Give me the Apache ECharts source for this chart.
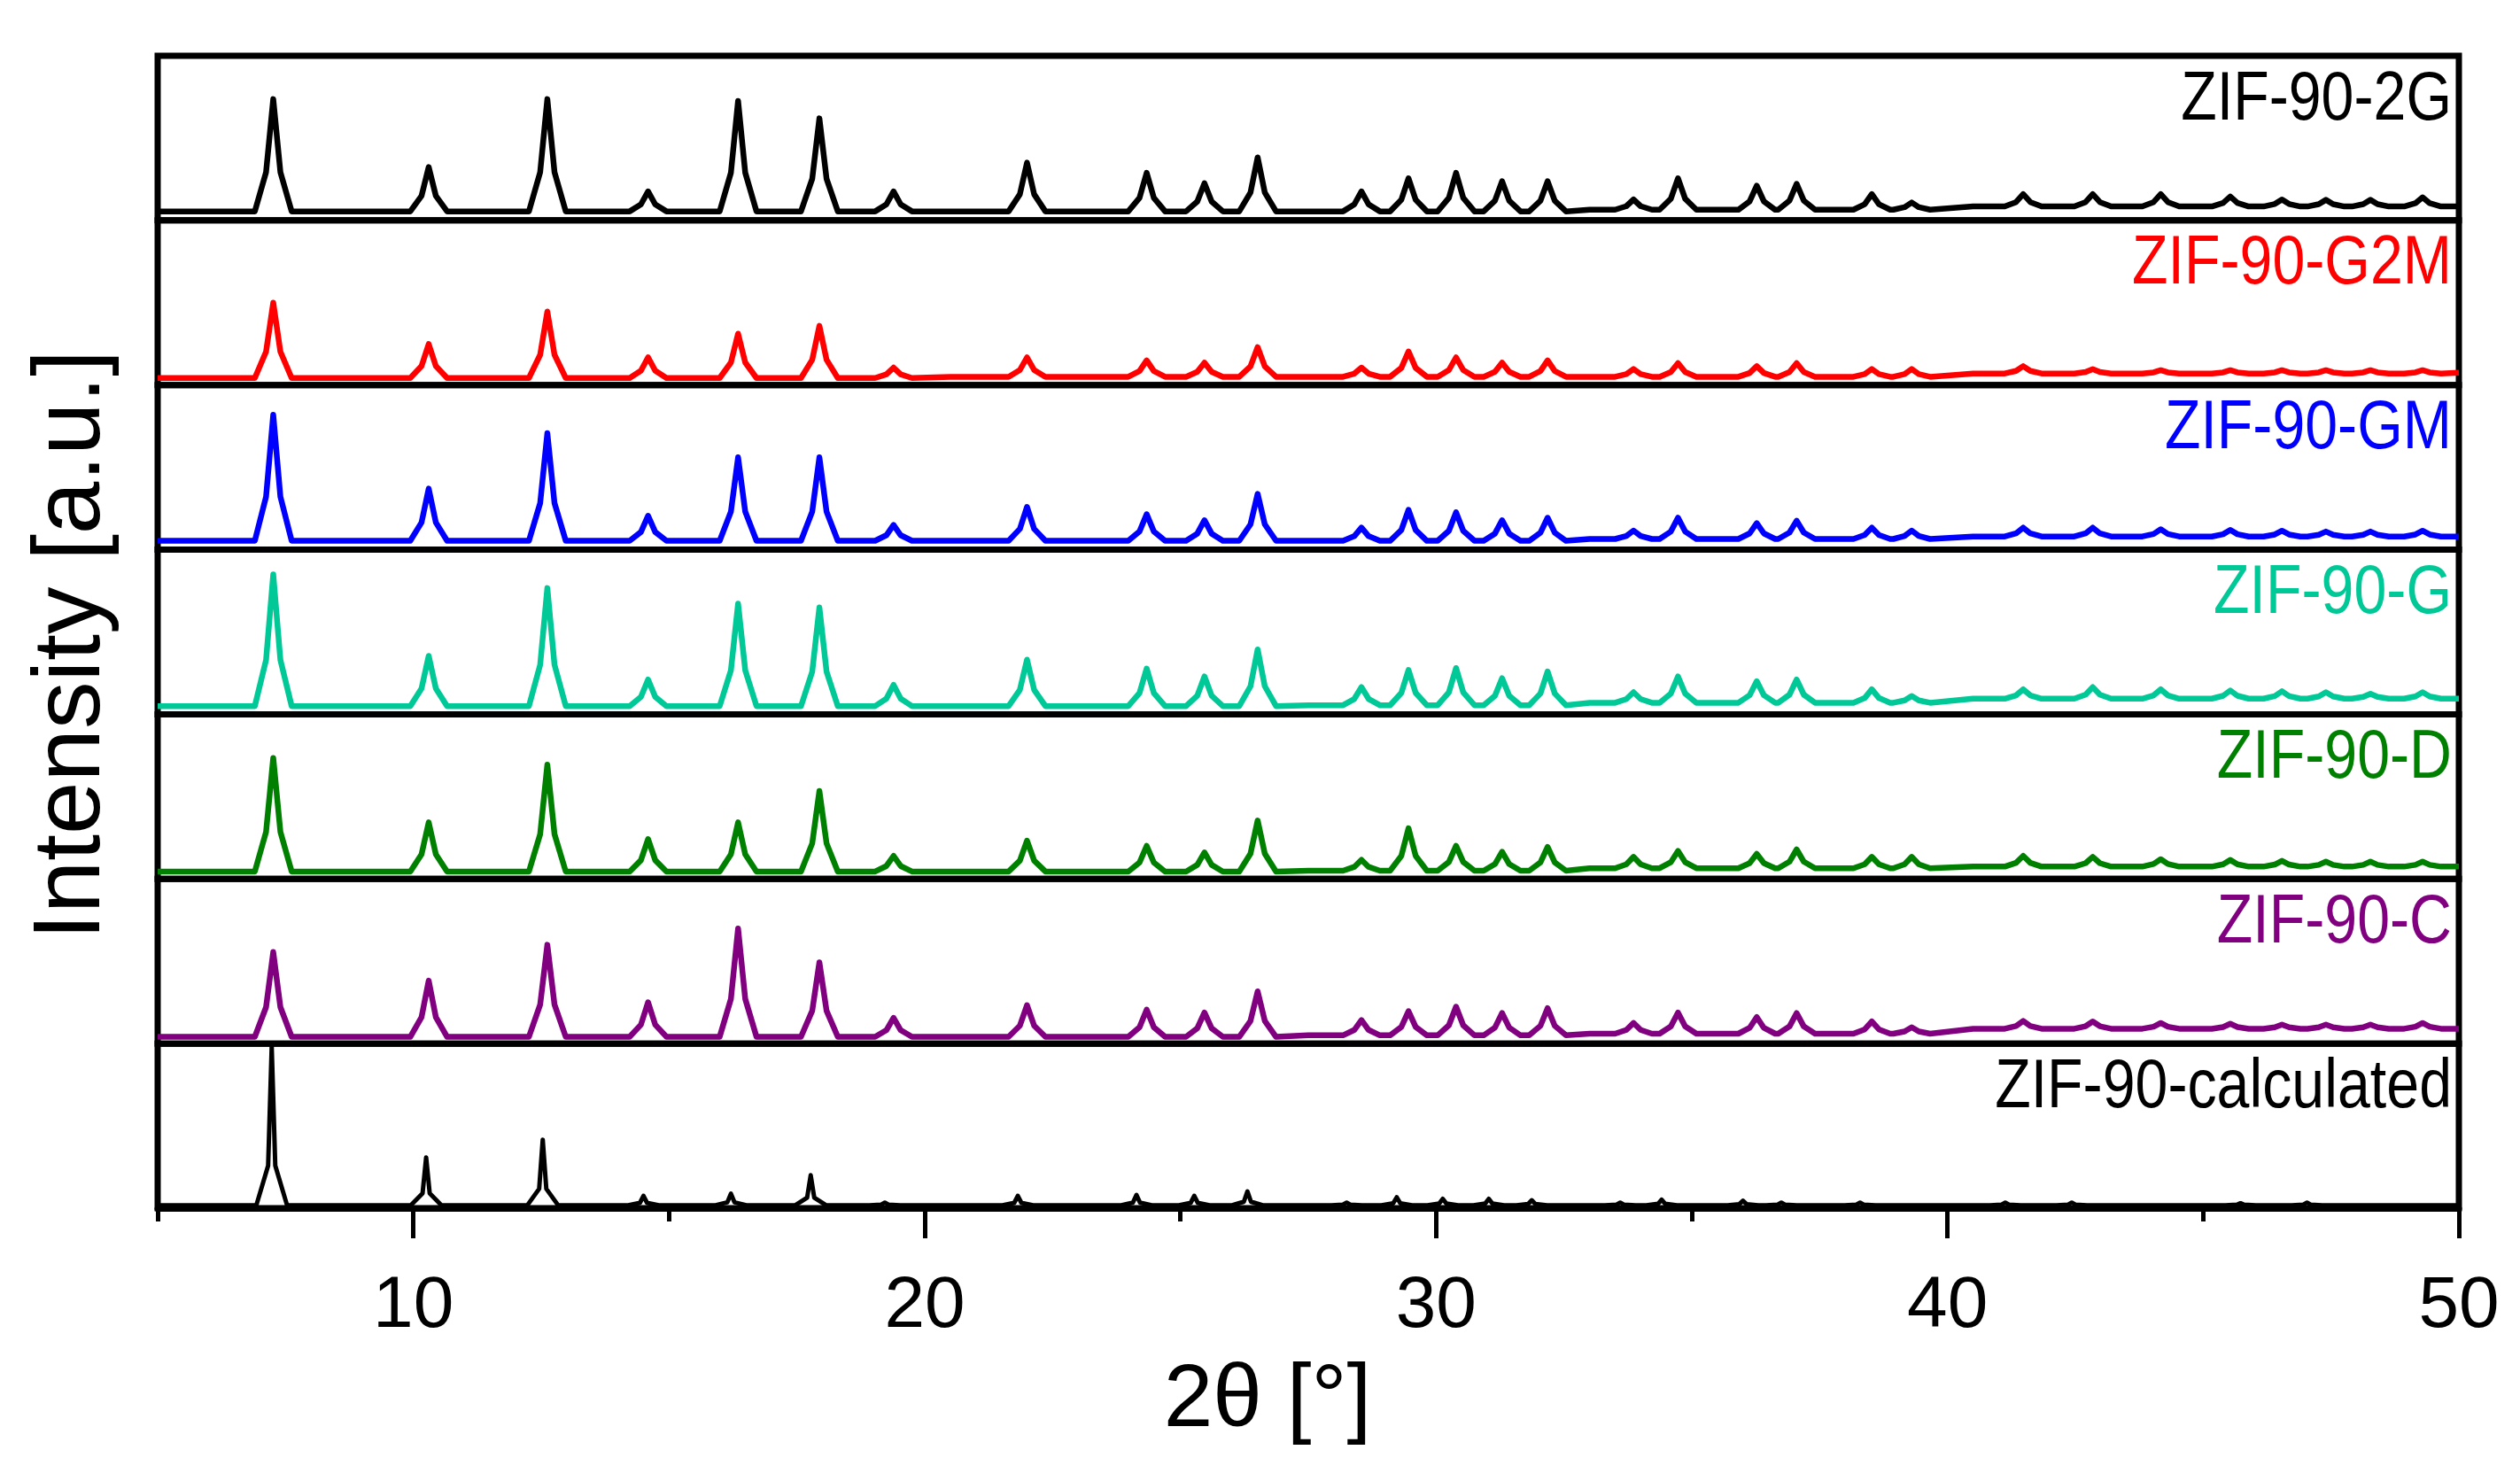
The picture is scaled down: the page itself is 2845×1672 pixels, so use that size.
<!DOCTYPE html>
<html>
<head>
<meta charset="utf-8">
<script src="https://cdn.jsdelivr.net/npm/echarts@6/dist/echarts.min.js"></script>
<style>
html,body{margin:0;padding:0;background:#fff;}
#chart{width:2845px;height:1672px;}
</style>
</head>
<body>
<div id="chart"></div>
<script>
// ---------------- data ----------------
const sampleNames = ['ZIF-90-2G', 'ZIF-90-G2M', 'ZIF-90-GM', 'ZIF-90-G', 'ZIF-90-D', 'ZIF-90-C', 'ZIF-90-calculated'];

// peak positions (2θ, °) of the measured patterns
const expPeakPos = [7.26, 10.30, 12.62, 14.59, 16.35, 17.94, 19.39, 22.00, 24.34, 25.47,
                    26.51, 28.54, 29.46, 30.39, 31.29, 32.18, 33.86, 34.73, 36.27, 37.05,
                    38.52, 39.30, 41.48, 42.84, 44.17, 45.53, 46.54, 47.40, 48.27, 49.29];

// peak intensities (per-panel relative units, 0-100)
const int2G  = [73.7, 32.4, 73.7, 17.6, 72.6, 62.0, 17.6, 35.1, 28.9, 22.6,
                38.3, 17.6, 25.6, 28.9, 23.8, 23.8, 12.7, 25.6, 21.1, 22.2,
                16.0, 10.9, 16.0, 16.0, 16.0, 14.5, 12.7, 12.5, 12.5, 14.0];
const intG2M = [50.0, 24.9, 44.6, 16.8, 31.2, 36.0, 10.6, 16.8, 15.0, 13.6,
                23.0, 10.6, 20.4, 16.8, 13.6, 15.0, 9.7, 13.3, 11.5, 13.3,
                9.7, 9.7, 11.5, 9.7, 9.0, 9.0, 9.0, 9.0, 9.0, 9.0];
const intGM  = [81.9, 37.1, 70.8, 20.6, 56.1, 56.1, 15.0, 26.0, 21.5, 17.9,
                33.9, 13.4, 24.2, 22.7, 17.9, 19.4, 11.6, 19.4, 16.1, 17.6,
                13.4, 11.6, 13.4, 13.4, 12.4, 12.0, 11.5, 11.0, 11.0, 11.5];
const intG   = [85.0, 35.5, 76.7, 21.1, 67.2, 64.9, 17.9, 33.2, 27.8, 23.0,
                39.4, 16.5, 26.9, 28.1, 21.9, 26.0, 13.4, 23.0, 20.1, 21.1,
                15.2, 11.1, 15.2, 16.5, 15.2, 14.5, 14.0, 13.4, 12.5, 13.4];
const intD   = [73.5, 34.4, 69.4, 24.2, 34.4, 53.4, 14.0, 23.3, 20.1, 16.1,
                35.5, 11.6, 30.8, 20.1, 16.5, 19.4, 13.4, 17.0, 15.2, 17.9,
                13.4, 13.4, 14.0, 13.4, 12.0, 11.5, 11.0, 10.5, 10.5, 10.5];
const intC   = [55.6, 38.2, 60.0, 25.1, 69.9, 49.3, 15.6, 23.3, 20.6, 18.8,
                31.7, 14.3, 19.7, 22.4, 18.5, 21.5, 12.5, 18.8, 16.1, 18.5,
                13.4, 9.9, 13.7, 13.4, 12.5, 12.0, 11.5, 11.5, 11.5, 12.5];

// calculated pattern
const calcPeakPos = [7.23, 10.25, 12.53, 14.50, 16.21, 17.77, 19.22, 21.82, 24.14, 25.27,
                     26.31, 28.25, 29.23, 30.13, 31.03, 31.87, 33.60, 34.41, 36.00, 36.75,
                     38.29, 41.13, 42.43, 45.73, 47.03];
const intCalc = [98.0, 30.8, 41.6, 7.5, 8.8, 20.0, 3.4, 7.5, 8.0, 7.5,
                 10.2, 3.4, 6.6, 5.7, 5.7, 4.8, 3.4, 5.2, 4.5, 3.4,
                 3.4, 3.4, 3.4, 3.0, 3.4];

// baseline levels read along each pattern: [2θ, level]
const base2G   = [[5, 5.5], [27.5, 5.5], [33, 6.5], [40.5, 8.5], [50, 8.5]];
const baseG2M  = [[5, 4.3], [20.5, 5.0], [40.5, 7.0], [50, 7.5]];
const baseGM   = [[5, 5.4], [27.5, 5.4], [33, 6.5], [40.5, 8.0], [50, 8.0]];
const baseG    = [[5, 5.0], [27.5, 5.5], [33, 7.0], [40.5, 9.5], [50, 9.5]];
const baseD    = [[5, 4.5], [27.5, 5.0], [33, 6.5], [40.5, 7.5], [50, 7.5]];
const baseC    = [[5, 4.1], [27.5, 5.0], [33, 6.0], [40.5, 9.0], [50, 9.0]];
const baseCalc = [[5, 1.8], [50, 1.8]];

// axis ticks
const xMajorTicks = [10, 20, 30, 40, 50];
const xMinorTicks = [5, 15, 25, 35, 45];
const xMin = 5, xMax = 50;

// ---------------- styling / layout ----------------
const colors = ['#000000', '#ff0000', '#0000ff', '#00c896', '#008000', '#800080', '#000000'];
const font = "'Liberation Sans', Arial, sans-serif";
const plotLeft = 178, plotRight = 69, plotTop = 63, plotBottom = 1364;
const panelH = (plotBottom - plotTop) / 7;

// peak profile drawing style: shoulder half-width, foot half-width, shoulder fraction
const expShape = { w1: 0.14, w2: 0.36, f: 0.35 };
const calcShape = { w1: 0.07, w2: 0.3, f: 0.25 };

function buildTrace(pos, hts, base, shape) {
  const level = x => { let l = base[0][1]; for (const b of base) if (b[0] <= x) l = b[1]; return l; };
  const pts = base.map(p => [p[0], p[1]]);
  pos.forEach((x, i) => {
    const b = level(x), h = hts[i], q = b + (h - b) * shape.f;
    pts.push([x - shape.w2, b], [x - shape.w1, q], [x, h], [x + shape.w1, q], [x + shape.w2, b]);
  });
  pts.sort((a, b) => a[0] - b[0]);
  return pts;
}

const traces = [
  buildTrace(expPeakPos, int2G, base2G, expShape),
  buildTrace(expPeakPos, intG2M, baseG2M, expShape),
  buildTrace(expPeakPos, intGM, baseGM, expShape),
  buildTrace(expPeakPos, intG, baseG, expShape),
  buildTrace(expPeakPos, intD, baseD, expShape),
  buildTrace(expPeakPos, intC, baseC, expShape),
  buildTrace(calcPeakPos, intCalc, baseCalc, calcShape)
];

const grids = [], xAxes = [], yAxes = [], series = [], graphics = [];
for (let i = 0; i < 7; i++) {
  const top = plotTop + i * panelH;
  grids.push({
    left: plotLeft, right: plotRight, top: top, height: panelH,
    show: true, borderColor: '#000', borderWidth: 7, backgroundColor: 'transparent'
  });
  if (i < 6) {
    xAxes.push({ gridIndex: i, type: 'value', min: xMin, max: xMax, show: false });
  } else {
    xAxes.push({
      gridIndex: 6, type: 'value', min: xMin, max: xMax, position: 'bottom',
      axisLine: { show: true, lineStyle: { color: '#000', width: 7 } },
      axisTick: { show: true, customValues: xMajorTicks, length: 34, inside: false, lineStyle: { color: '#000', width: 5 } },
      axisLabel: { show: true, customValues: xMajorTicks, fontSize: 82, margin: 70, color: '#000', fontFamily: font },
      splitLine: { show: false },
      name: '2θ [°]', nameLocation: 'middle', nameGap: 168,
      nameTextStyle: { fontSize: 100, color: '#000', fontFamily: font, padding: [0, 92, 0, 0] }
    });
  }
  const y = { gridIndex: i, type: 'value', min: 0, max: 100, show: false };
  if (i === 3) {
    Object.assign(y, {
      show: true,
      axisLine: { show: false }, axisTick: { show: false }, axisLabel: { show: false }, splitLine: { show: false },
      name: 'Intensity [a.u.]', nameLocation: 'middle', nameRotate: 90, nameGap: 42,
      nameTextStyle: { fontSize: 107, color: '#000', fontFamily: font, padding: [0, 29, 0, 0] }
    });
  }
  yAxes.push(y);
  series.push({
    name: sampleNames[i], type: 'line', xAxisIndex: i, yAxisIndex: i,
    data: traces[i], showSymbol: false, symbol: 'none',
    lineStyle: { color: colors[i], width: i === 6 ? 5 : 6.5, join: 'round' },
    itemStyle: { color: colors[i] },
    clip: true, animation: false, z: 3
  });
  graphics.push({
    type: 'text', x: 2768, y: top + 50, z: 10, scaleX: 0.85,
    style: {
      text: sampleNames[i], fill: colors[i], fontSize: 78, fontFamily: font,
      textAlign: 'right', textVerticalAlign: 'middle', align: 'right', verticalAlign: 'middle'
    }
  });
}
// minor ticks on the bottom axis
xAxes.push({
  gridIndex: 6, type: 'value', min: xMin, max: xMax, position: 'bottom',
  axisLine: { show: false },
  axisTick: { show: true, customValues: xMinorTicks, length: 15, inside: false, lineStyle: { color: '#000', width: 5 } },
  axisLabel: { show: false }, splitLine: { show: false }
});

const chart = echarts.init(document.getElementById('chart'), null, { renderer: 'canvas' });
chart.setOption({
  backgroundColor: '#ffffff',
  animation: false,
  grid: grids,
  xAxis: xAxes,
  yAxis: yAxes,
  series: series,
  graphic: graphics
});
</script>
</body>
</html>
